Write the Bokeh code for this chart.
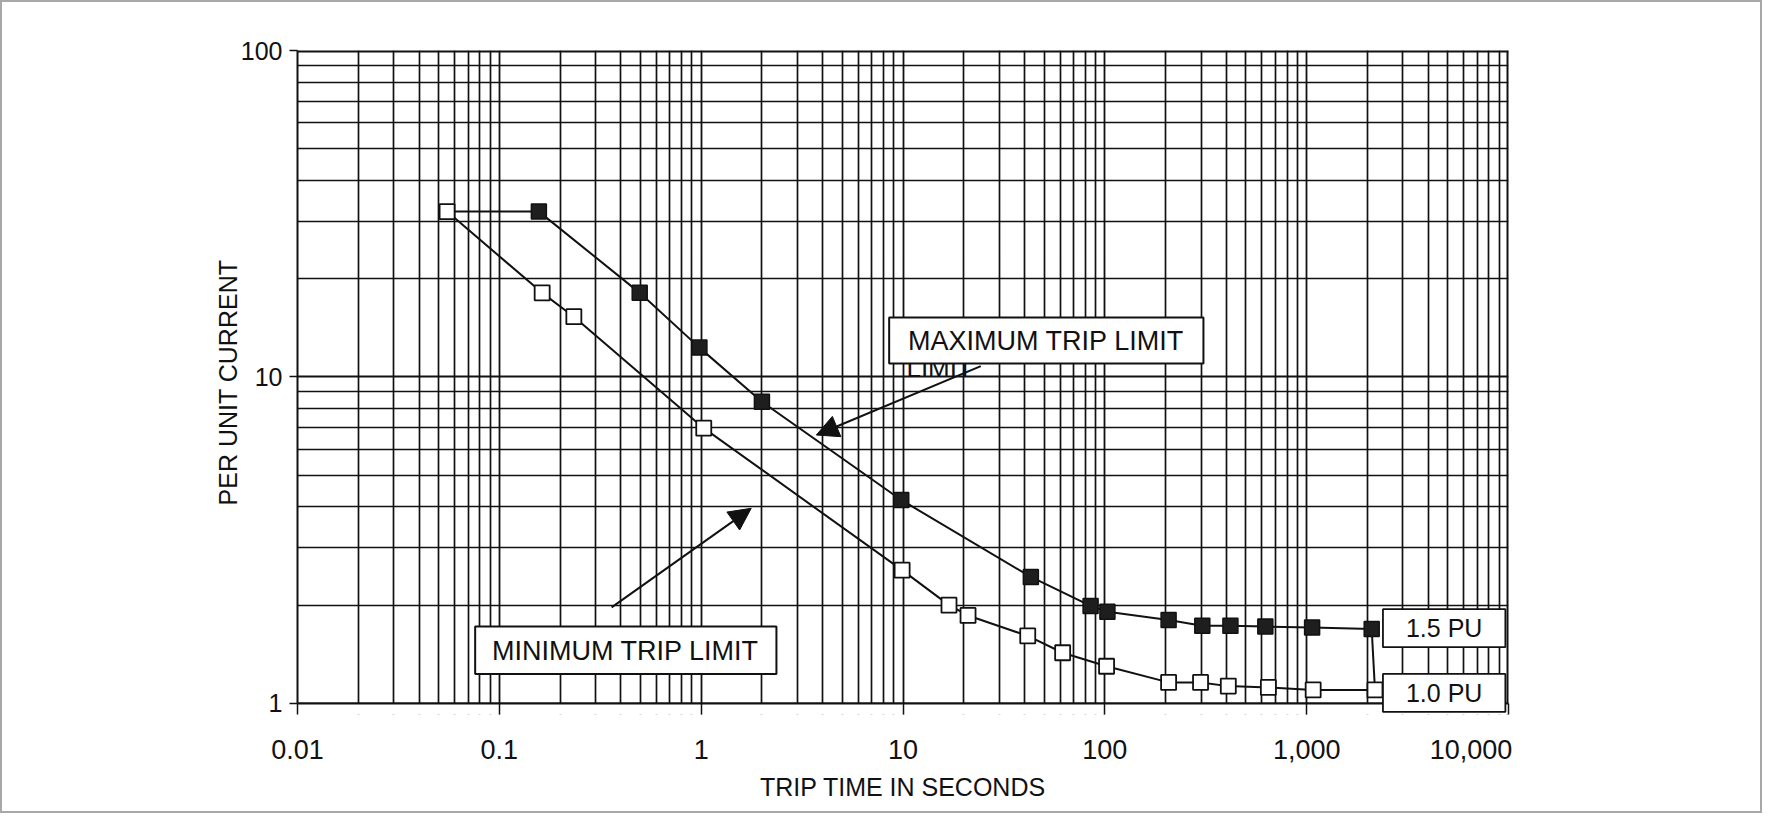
from bokeh.plotting import figure
from bokeh.models import FixedTicker, BoxAnnotation, Label, Arrow, NormalHead, Span
from bokeh.embed import file_html
from bokeh.resources import INLINE

# ---- data ----
max_time = [0.157, 0.496, 0.98, 2.0, 9.8, 43, 85, 103, 207, 304, 419, 624, 1064, 2100]
max_current = [32.1, 18.1, 12.3, 8.4, 4.2, 2.44, 1.99, 1.91, 1.80, 1.73, 1.73, 1.72, 1.71, 1.69]
min_time = [0.0551, 0.163, 0.234, 1.03, 9.9, 16.9, 21, 41.5, 61.8, 102, 207, 298, 409, 646, 1077, 2180]
min_current = [32.1, 18.1, 15.3, 6.97, 2.56, 2.0, 1.86, 1.61, 1.43, 1.30, 1.16, 1.16, 1.13, 1.12, 1.10, 1.10]

x_ticks = [0.01, 0.1, 1.0, 10.0, 100.0, 1000.0, 10000.0]
x_tick_labels = ["0.01", "0.1", "1", "10", "100", "1,000", "10,000"]
y_ticks = [1.0, 10.0, 100.0]
y_tick_labels = ["1", "10", "100"]
x_minor = [m * 10.0 ** e for e in range(-2, 4) for m in range(2, 10)]
y_minor = [m * 10.0 ** e for e in range(0, 2) for m in range(2, 10)]

# the visible plot box runs from 1 to 100; the frame is extended slightly below 1 so
# that the "1.0 PU" box (which overlaps the axis in the reference) is not clipped
Y_FRAME_BOTTOM = 0.925

# annotation anchors (data units)
max_box = dict(left=8.54, right=308, bottom=11.0, top=15.2)
max_text = dict(x=10.6, y=12.9, text="MAXIMUM TRIP LIMIT")
ghost_text = dict(x=10.4, y=10.66, text="LIMIT")
min_box = dict(left=0.0759, right=2.36, bottom=1.23, top=1.72)
min_text = dict(x=0.092, y=1.449, text="MINIMUM TRIP LIMIT")
pu15_text = dict(x=4800, y=1.70, text="1.5 PU")
pu10_text = dict(x=4800, y=1.077, text="1.0 PU")
max_arrow = dict(x_start=24.3, y_start=10.8, x_end=3.72, y_end=6.64)
min_arrow = dict(x_start=0.36, y_start=1.97, x_end=1.77, y_end=3.96)

FONT = "Liberation Sans"
INK = "#111111"
TICK_LEN = 11
NBSP = "\u00a0"

p = figure(width=1762, height=813, x_axis_type="log", y_axis_type="log",
           x_range=(x_ticks[0], x_ticks[-1]), y_range=(Y_FRAME_BOTTOM, y_ticks[-1]),
           output_backend="svg", toolbar_location=None,
           min_border_left=295, min_border_right=256,
           min_border_top=48, min_border_bottom=101)
p.styles = {"border": "2px solid #a8a8a8"}
p.background_fill_color = "white"
p.border_fill_color = "white"
p.outline_line_color = None

p.xaxis.ticker = FixedTicker(ticks=x_ticks, minor_ticks=x_minor)
p.yaxis.ticker = FixedTicker(ticks=y_ticks, minor_ticks=y_minor)
p.xgrid.ticker = p.xaxis[0].ticker
p.ygrid.ticker = p.yaxis[0].ticker
x_overrides = dict(zip(x_ticks, x_tick_labels))
# the last label sits pulled in from the plot edge in the reference
x_overrides[x_ticks[-1]] = x_tick_labels[-1] + NBSP * 10
p.xaxis.major_label_overrides = x_overrides
p.yaxis.major_label_overrides = dict(zip(y_ticks, y_tick_labels))
p.yaxis.bounds = (y_ticks[0], y_ticks[-1])

for g in (p.xgrid, p.ygrid):
    g.grid_line_color = INK
    g.grid_line_width = 1.8
    g.minor_grid_line_color = INK
    g.minor_grid_line_width = 1.7

p.axis.major_tick_line_color = INK
p.axis.major_tick_line_width = 1.5
p.axis.minor_tick_out = 0
p.axis.minor_tick_in = 0
p.axis.major_label_text_font = FONT
p.axis.major_label_text_color = INK
p.axis.axis_label_text_font = FONT
p.axis.axis_label_text_font_style = "normal"
p.axis.axis_label_text_color = INK

p.yaxis.axis_line_color = INK
p.yaxis.axis_line_width = 2
p.yaxis.major_tick_out = 8
p.yaxis.major_tick_in = 0
p.yaxis.major_label_text_font_size = "25px"
p.yaxis.major_label_standoff = 7
p.yaxis.axis_label = "PER UNIT CURRENT"
p.yaxis.axis_label_text_font_size = "25px"
p.yaxis.axis_label_standoff = -4

p.xaxis.axis_line_color = None
p.xaxis.major_tick_out = 0
p.xaxis.major_tick_in = TICK_LEN
p.xaxis.major_label_text_font_size = "27px"
p.xaxis.major_label_standoff = 20
p.xaxis.axis_label = "TRIP TIME IN SECONDS"
p.xaxis.axis_label_text_font_size = "25px"
p.xaxis.axis_label_standoff = 5

# plot box edges (top / right), then white cover below the x axis, then x axis line
p.add_layout(Span(location=y_ticks[-1], dimension="width", line_color=INK,
                  line_width=4, level="underlay"))
p.add_layout(Span(location=x_ticks[-1], dimension="height", line_color=INK,
                  line_width=4, level="underlay"))
p.add_layout(BoxAnnotation(bottom=Y_FRAME_BOTTOM, top=y_ticks[0], fill_color="white",
                           fill_alpha=1.0, line_color=None, level="underlay"))
p.add_layout(Span(location=y_ticks[0], dimension="width", line_color=INK,
                  line_width=2, level="underlay"))

# curves
p.line(min_time, min_current, line_color=INK, line_width=2)
p.line(max_time, max_current, line_color=INK, line_width=2)
p.line([min_time[0], max_time[0]], [min_current[0], max_current[0]], line_color=INK, line_width=2)
p.line([max_time[-1], min_time[-1]], [max_current[-1], min_current[-1]], line_color=INK, line_width=2)
p.scatter(min_time, min_current, marker="square", size=15, fill_color="white",
          line_color=INK, line_width=1.8)
p.scatter(max_time, max_current, marker="square", size=15, fill_color="#1e1e1e",
          line_color=INK, line_width=1.5)

# annotations
def add_label(d, size, align="left", boxed=False):
    kw = {}
    if boxed:
        kw = dict(border_line_color=INK, border_line_width=1.8,
                  background_fill_color="white", background_fill_alpha=1.0,
                  padding=(23, 5))
    p.add_layout(Label(x=d["x"], y=d["y"], text=d["text"], text_font=FONT,
                       text_font_size=size, text_color=INK, text_align=align,
                       text_baseline="middle", **kw))

def add_box(d, width=2):
    p.add_layout(BoxAnnotation(left=d["left"], right=d["right"], bottom=d["bottom"],
                               top=d["top"], fill_color="white", fill_alpha=1.0,
                               line_color=INK, line_width=width, line_alpha=1.0))

p.add_layout(Arrow(end=NormalHead(size=22, fill_color=INK, line_color=INK),
                   line_color=INK, line_width=2, **max_arrow))
p.add_layout(Arrow(end=NormalHead(size=22, fill_color=INK, line_color=INK),
                   line_color=INK, line_width=2, **min_arrow))
add_label(ghost_text, "26px")
add_box(max_box)
add_label(max_text, "27px")
add_box(min_box)
add_label(min_text, "27px")
add_label(pu15_text, "25px", "center", boxed=True)
add_label(pu10_text, "25px", "center", boxed=True)

open("out.html", "w").write(file_html(p, INLINE))
